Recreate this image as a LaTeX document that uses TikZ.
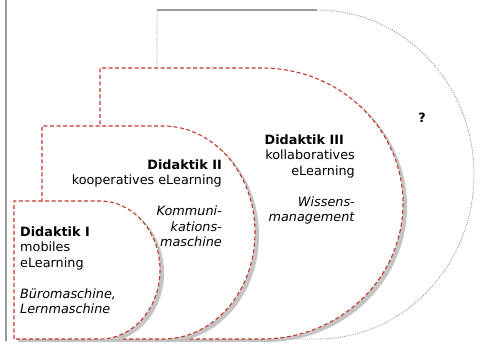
\documentclass[tikz,border=0pt]{standalone}
\usepackage{fontspec}
\setmainfont{DejaVu Sans}
\definecolor{dred}{HTML}{C0392B}
\definecolor{lgray}{HTML}{999999}
\definecolor{shad}{HTML}{C4C4C4}
\begin{document}
\begin{tikzpicture}[x=1pt,y=1pt,
  redline/.style={draw=dred, line width=1.1pt, dash pattern=on 4pt off 2.5pt},
  grayline/.style={draw=lgray, line width=0.9pt, dash pattern=on 1pt off 1.2pt},
  shadowfill/.style={fill=shad},
  txt/.style={inner sep=0pt, font=\fontsize{12.8}{15.5}\selectfont}]
\useasboundingbox (0,0) rectangle (480,344);
\fill[white] (0,0) rectangle (480,344);
% frame line on the left
\draw[lgray, line width=1.5pt] (6,344) -- (6,3);
% stage 4 (?)
\fill[white] (157,5) -- (157,334) -- (317,334) arc[start angle=90,end angle=-90,x radius=157,y radius=164.5] -- cycle;
\draw[grayline] (157,5) -- (157,334) -- (317,334) arc[start angle=90,end angle=-90,x radius=157,y radius=164.5] -- cycle;
\draw[lgray, line width=2pt] (157,334) -- (317,334);
% stage 3
\fill[shadowfill, shift={(4,-3)}] (100,5) -- (100,276) -- (262,276) arc[start angle=90,end angle=-90,x radius=141,y radius=135.5] -- cycle;
\fill[white] (100,5) -- (100,276) -- (262,276) arc[start angle=90,end angle=-90,x radius=141,y radius=135.5] -- cycle;
\draw[redline] (100,5) -- (100,276) -- (262,276) arc[start angle=90,end angle=-90,x radius=141,y radius=135.5] -- cycle;
% stage 2
\fill[shadowfill, shift={(4,-3)}] (42,5) -- (42,218) -- (163,218) arc[start angle=90,end angle=-90,x radius=92,y radius=106.5] -- cycle;
\fill[white] (42,5) -- (42,218) -- (163,218) arc[start angle=90,end angle=-90,x radius=92,y radius=106.5] -- cycle;
\draw[redline] (42,5) -- (42,218) -- (163,218) arc[start angle=90,end angle=-90,x radius=92,y radius=106.5] -- cycle;
% stage 1
\fill[shadowfill, shift={(4,-3)}] (14,5) -- (14,143) -- (100,143) arc[start angle=90,end angle=-90,x radius=60,y radius=69] -- cycle;
\fill[white] (14,5) -- (14,143) -- (100,143) arc[start angle=90,end angle=-90,x radius=60,y radius=69] -- cycle;
\draw[redline] (14,5) -- (14,143) -- (100,143) arc[start angle=90,end angle=-90,x radius=60,y radius=69] -- cycle;
% texts
\node[txt, anchor=north west, align=left] (d1) at (20,117.7)
  {\textbf{Didaktik I}\\mobiles\\eLearning\\[15.5pt]\textit{Büromaschine,}\\\textit{Lernmaschine}};
\node[txt, anchor=north east, align=right] (d2) at (222,184.7)
  {\textbf{Didaktik II}\\kooperatives eLearning\\[15.5pt]\textit{Kommuni-}\\\textit{kations-}\\\textit{maschine}};
\node[txt, anchor=north east, align=right] (d3) at (355,209.7)
  {\textbf{Didaktik III}\hspace*{11pt}\\kollaboratives\\eLearning\\[15.5pt]\textit{Wissens-}\\\textit{management}};
\node[txt, anchor=base] (q) at (422,221) {\textbf{?}};
\end{tikzpicture}
\end{document}
